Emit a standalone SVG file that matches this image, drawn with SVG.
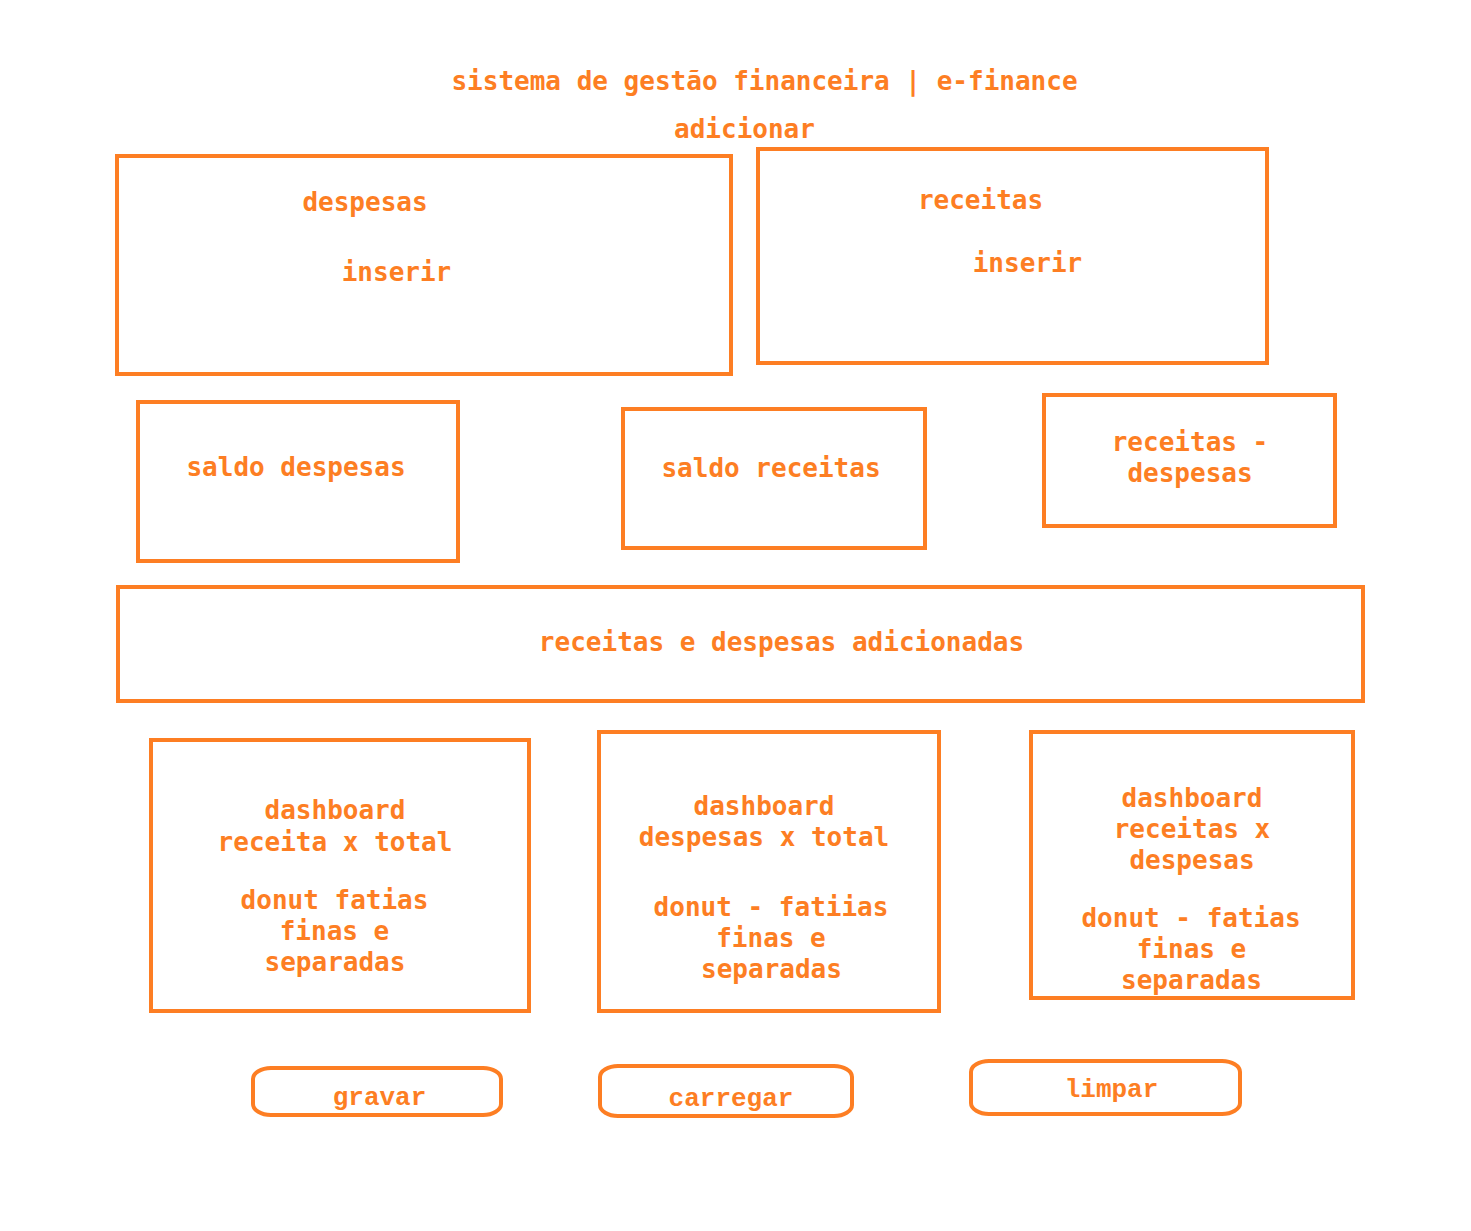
<svg xmlns="http://www.w3.org/2000/svg" width="1471" height="1231" viewBox="0 0 1471 1231">
<style>
.b{fill:none;stroke:#fd7e23;stroke-width:4}
.t{font-family:"DejaVu Sans Mono","Liberation Mono",monospace;font-weight:bold;font-size:26px;fill:#fd7e23;text-anchor:middle}
.m{font-family:"Liberation Mono",monospace;font-weight:bold;font-size:26px;fill:#fd7e23;text-anchor:middle}
</style>
<rect width="1471" height="1231" fill="#ffffff"/>
<g id="title"><text class="t" x="764.5" y="90">sistema de gestão financeira | e-finance</text></g>
<g id="adicionar"><text class="t" x="744.5" y="138">adicionar</text></g>
<g id="despesas">
<rect class="b" x="117" y="156" width="614" height="218"/>
<text class="t" x="365" y="211">despesas</text>
<text class="t" x="396.5" y="281">inserir</text>
</g>
<g id="receitas">
<rect class="b" x="758" y="149" width="509" height="214"/>
<text class="t" x="980.5" y="209">receitas</text>
<text class="t" x="1027.5" y="272">inserir</text>
</g>
<g id="saldo-despesas">
<rect class="b" x="138" y="402" width="320" height="159"/>
<text class="t" x="296" y="476">saldo despesas</text>
</g>
<g id="saldo-receitas">
<rect class="b" x="623" y="409" width="302" height="139"/>
<text class="t" x="771" y="477">saldo receitas</text>
</g>
<g id="receitas-menos-despesas">
<rect class="b" x="1044" y="395" width="291" height="131"/>
<text class="t" x="1190" y="451">receitas -</text>
<text class="t" x="1190" y="482">despesas</text>
</g>
<g id="adicionadas">
<rect class="b" x="118" y="587" width="1245" height="114"/>
<text class="t" x="781.5" y="651">receitas e despesas adicionadas</text>
</g>
<g id="dashboard-receita">
<rect class="b" x="151" y="740" width="378" height="271"/>
<text class="t" x="335" y="819">dashboard</text>
<text class="t" x="335" y="851">receita x total</text>
<text class="t" x="334.5" y="909">donut fatias</text>
<text class="t" x="334.5" y="940">finas e</text>
<text class="t" x="335" y="971">separadas</text>
</g>
<g id="dashboard-despesas">
<rect class="b" x="599" y="732" width="340" height="279"/>
<text class="t" x="764" y="815">dashboard</text>
<text class="t" x="764" y="846">despesas x total</text>
<text class="t" x="771" y="916">donut - fatiias</text>
<text class="t" x="771" y="947">finas e</text>
<text class="t" x="771.5" y="978">separadas</text>
</g>
<g id="dashboard-receitas-despesas">
<rect class="b" x="1031" y="732" width="322" height="266"/>
<text class="t" x="1192" y="807">dashboard</text>
<text class="t" x="1192" y="838">receitas x</text>
<text class="t" x="1192" y="869">despesas</text>
<text class="t" x="1191" y="927">donut - fatias</text>
<text class="t" x="1191.5" y="958">finas e</text>
<text class="t" x="1191.5" y="989">separadas</text>
</g>
<g id="gravar">
<rect class="b" x="253" y="1068" width="248" height="47" rx="18" ry="11"/>
<text class="m" x="379.5" y="1105">gravar</text>
</g>
<g id="carregar">
<rect class="b" x="600" y="1066" width="252" height="50" rx="18" ry="11"/>
<text class="m" x="731" y="1106">carregar</text>
</g>
<g id="limpar">
<rect class="b" x="971" y="1061" width="269" height="53" rx="18" ry="11"/>
<text class="m" x="1111.5" y="1097">limpar</text>
</g>
<g id="connectors"></g>
</svg>
